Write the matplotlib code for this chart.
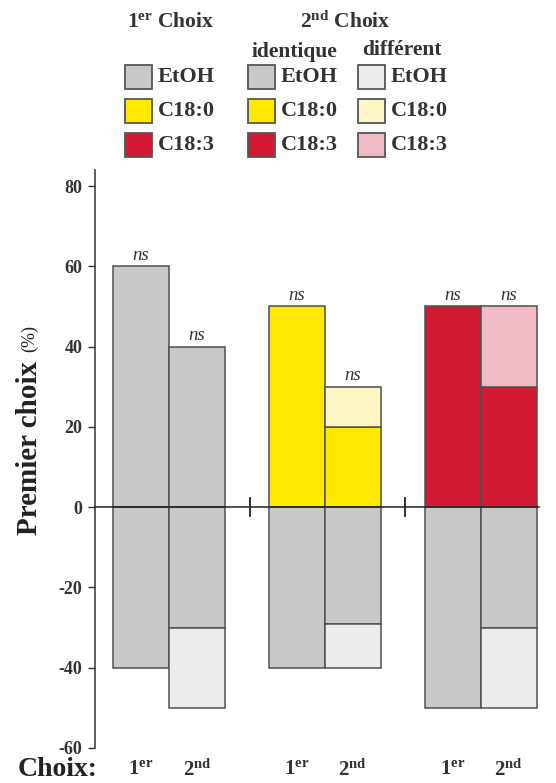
import matplotlib
matplotlib.use("Agg")
import matplotlib.pyplot as plt
from matplotlib.patches import Rectangle

plt.rcParams['font.family'] = ['Liberation Serif', 'DejaVu Serif']
plt.rcParams['mathtext.fontset'] = 'custom'
plt.rcParams['mathtext.rm'] = 'Liberation Serif'
plt.rcParams['mathtext.bf'] = 'Liberation Serif:bold'
plt.rcParams['mathtext.it'] = 'Liberation Serif:italic'

# ─── Donnees (%) ───────────────────────────────────────────────────────────────
categories = ['EtOH', 'C18:0', 'C18:3']
premier_pos = [60, 50, 50]          # 1er choix, partie positive
premier_neg = [-40, -40, -50]       # 1er choix, partie negative (EtOH)
second_pos_ident = [40, 20, 30]     # 2nd choix identique
second_pos_diff = [0, 10, 20]       # 2nd choix different
second_neg_ident = [-30, -29, -30]
second_neg_diff = [-20, -11, -20]
ns_labels = ['ns', 'ns', 'ns', 'ns', 'ns', 'ns']

yticks = [-60, -40, -20, 0, 20, 40, 60, 80]

col_fort = {'EtOH': '#c8c8c8', 'C18:0': '#ffe900', 'C18:3': '#d21a32'}
col_clair = {'EtOH': '#ececec', 'C18:0': '#fff6c6', 'C18:3': '#f1bbc6'}
EDGE = '#505050'

W, H = 556, 783
fig = plt.figure(figsize=(W / 100, H / 100), dpi=100)
fig.patch.set_facecolor('white')
ax = fig.add_axes([95 / W, (H - 748) / H, 450 / W, 578 / H])

group_step = 2.78
bar_w = 1.0
for g, cat in enumerate(categories):
    x1 = g * group_step
    x2 = x1 + 1
    # 1er choix
    ax.bar(x1, premier_pos[g], width=bar_w, color=col_fort[cat], edgecolor=EDGE, linewidth=1.1, zorder=2)
    ax.bar(x1, premier_neg[g], width=bar_w, color=col_fort['EtOH'], edgecolor=EDGE, linewidth=1.1, zorder=2)
    # 2nd choix
    ax.bar(x2, second_pos_ident[g], width=bar_w, color=col_fort[cat], edgecolor=EDGE, linewidth=1.1, zorder=2)
    if second_pos_diff[g] > 0:
        ax.bar(x2, second_pos_diff[g], bottom=second_pos_ident[g], width=bar_w,
               color=col_clair[cat], edgecolor=EDGE, linewidth=1.1, zorder=2)
    ax.bar(x2, second_neg_ident[g], width=bar_w, color=col_fort['EtOH'], edgecolor=EDGE, linewidth=1.1, zorder=2)
    ax.bar(x2, second_neg_diff[g], bottom=second_neg_ident[g], width=bar_w,
           color=col_clair['EtOH'], edgecolor=EDGE, linewidth=1.1, zorder=2)
    # ns
    top2 = second_pos_ident[g] + second_pos_diff[g]
    ax.text(x1, premier_pos[g] + 0.6, ns_labels[2 * g], ha='center', va='bottom',
            fontsize=13.5, style='italic', color='#333333')
    ax.text(x2, top2 + 0.6, ns_labels[2 * g + 1], ha='center', va='bottom',
            fontsize=13.5, style='italic', color='#333333')

# ligne zero + coupures
ax.plot([-0.82, 7.1], [0, 0], color='#222222', linewidth=1.1, zorder=3, clip_on=False)
for g in range(len(categories) - 1):
    xb = (g * group_step + 1.5 + (g + 1) * group_step - 0.5) / 2 + 0.05
    ax.plot([xb, xb], [-2.2, 2.2], color='#222222', linewidth=1.3, zorder=3)

ax.set_xlim(-0.82, 7.21)
ax.set_ylim(-60, 84)
ax.set_yticks(yticks)
ax.set_yticklabels([str(v) for v in yticks], fontsize=13, fontweight='bold', color='#333333')
ax.tick_params(axis='y', direction='out', length=5, width=1, pad=4, colors='#333333')
ax.set_xticks([])
for s in ['top', 'right', 'bottom']:
    ax.spines[s].set_visible(False)
ax.spines['left'].set_color('#333333')
ax.spines['left'].set_linewidth(1.1)

# ─── Textes et legende (coordonnees pixels) ───────────────────────────────────
ov = fig.add_axes([0, 0, 1, 1], zorder=5)
ov.set_xlim(0, W)
ov.set_ylim(H, 0)
ov.axis('off')
ov.patch.set_alpha(0)

ov.text(30, 448, 'Premier choix', rotation=90, ha='center', va='center',
        fontsize=21, fontweight='bold', color='#222222')
ov.text(30, 339, '(%)', rotation=90, ha='center', va='center',
        fontsize=13, color='#222222')

ov.text(127, 22, r'$\mathbf{1^{er}}$ Choix', ha='left', va='center', fontsize=15.5,
        fontweight='bold', color='#333333')
ov.text(300, 22, r'$\mathbf{2^{nd}}$ Choix', ha='left', va='center', fontsize=15.5,
        fontweight='bold', color='#333333')
ov.text(252, 52, 'identique', ha='left', va='center', fontsize=15.5,
        fontweight='bold', color='#333333')
ov.text(362, 50, 'différent', ha='left', va='center', fontsize=15.5,
        fontweight='bold', color='#333333')

col_x = [125, 248, 358]
row_y = [65, 99, 133]
for r, cat in enumerate(categories):
    cols = [col_fort[cat], col_fort[cat], col_clair[cat]]
    for c in range(3):
        ov.add_patch(Rectangle((col_x[c], row_y[r]), 27, 24, facecolor=cols[c],
                               edgecolor='#555555', linewidth=1.3))
        ov.text(col_x[c] + 33, row_y[r] + 12.5, cat, ha='left', va='center',
                fontsize=16, fontweight='bold', color='#333333')

ov.text(18, 770, 'Choix:', ha='left', va='center', fontsize=20,
        fontweight='bold', color='#222222')
for g in range(len(categories)):
    for b, lab in enumerate([r'$\mathbf{1^{er}}$', r'$\mathbf{2^{nd}}$']):
        xd = g * group_step + b
        xp = ax.transData.transform((xd, 0))[0]
        ov.text(xp, 770, lab, ha='center', va='center', fontsize=15, color='#333333')

fig.savefig('out.png', dpi=100, facecolor='white')
